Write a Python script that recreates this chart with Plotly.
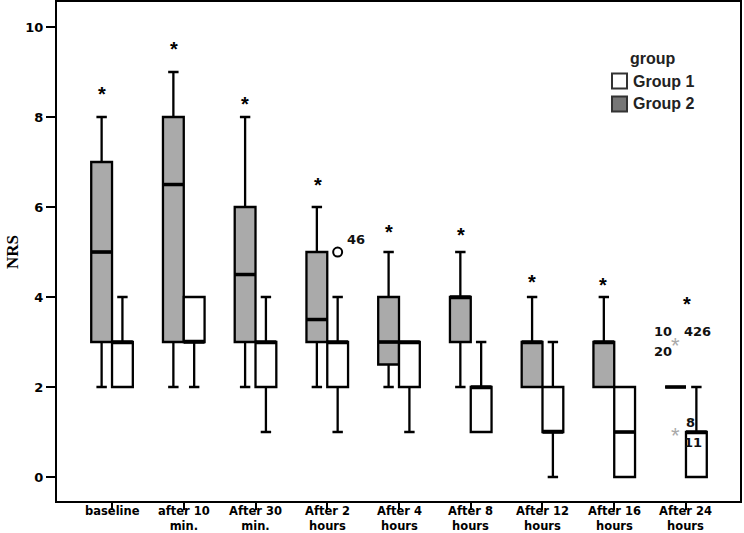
import plotly.graph_objects as go

cat_line1 = ["baseline", "after 10", "After 30", "After 2", "After 4", "After 8",
             "After 12", "After 16", "After 24"]
cat_line2 = ["", "min.", "min.", "hours", "hours", "hours", "hours", "hours", "hours"]

# Group 2 (grey)
g2_low = [2, 2, 2, 2, 2, 2, 2, 2, 2]
g2_q1 = [3, 3, 3, 3, 2.5, 3, 2, 2, 2]
g2_med = [5, 6.5, 4.5, 3.5, 3, 4, 3, 3, 2]
g2_q3 = [7, 8, 6, 5, 4, 4, 3, 3, 2]
g2_high = [8, 9, 8, 6, 5, 5, 4, 4, 2]

# Group 1 (white)
g1_low = [2, 2, 1, 1, 1, 1, 0, 0, 0]
g1_q1 = [2, 3, 2, 2, 2, 1, 1, 0, 0]
g1_med = [3, 3, 3, 3, 3, 2, 1, 1, 1]
g1_q3 = [3, 4, 3, 3, 3, 2, 2, 2, 1]
g1_high = [4, 4, 4, 4, 3, 3, 3, 2, 2]

# outliers / extremes
g1_outlier_cat = [3]
g1_outlier_val = [5]
g2_extreme_cat = [8, 8]
g2_extreme_val = [3, 1]

# case-number labels: text, x (data), y (data)
case_text = ["46", "10", "20", "426", "8", "11"]
case_x = [3.247, 7.526, 7.526, 7.944, 7.972, 7.944]
case_y = [5.27, 3.24, 2.8, 3.24, 1.22, 0.76]

# significance asterisks
sig_x = [-0.14, 0.86, 1.85, 2.87, 3.86, 4.86, 5.85, 6.84, 8.01]
sig_y = [8.56, 9.56, 8.33, 6.53, 5.49, 5.42, 4.38, 4.31, 3.89]

y_ticks = [0, 2, 4, 6, 8, 10]

W, H = 744, 533
ML, MR, MT, MB = 57, 4, 2, 32
OFF = 0.145
BW = 0.29
FONT = "Liberation Sans, Arial"
WFONT = "DejaVu Sans, Verdana"

n = len(cat_line1)
xi = list(range(n))

fig = go.Figure()
for xs, q1, med, q3, lo, hi, fill, name in [
        ([i - OFF for i in xi], g2_q1, g2_med, g2_q3, g2_low, g2_high, "#aaaaaa", "Group 2"),
        ([i + OFF for i in xi], g1_q1, g1_med, g1_q3, g1_low, g1_high, "white", "Group 1")]:
    fig.add_trace(go.Box(
        x=xs, q1=q1, median=med, q3=q3, lowerfence=lo, upperfence=hi, width=BW,
        fillcolor=fill, line=dict(color="black", width=2.3),
        whiskerwidth=0.5, boxpoints=False, name=name, showlegend=False))
    # thicker median line
    mx, my = [], []
    for x, m in zip(xs, med):
        mx += [x - BW / 2, x + BW / 2, None]
        my += [m, m, None]
    fig.add_trace(go.Scatter(x=mx, y=my, mode="lines", line=dict(color="black", width=3.5),
                             showlegend=False, hoverinfo="skip"))

# outlier circle
fig.add_trace(go.Scatter(
    x=[c + OFF for c in g1_outlier_cat], y=g1_outlier_val, mode="markers",
    marker=dict(symbol="circle-open", size=9, color="black", line=dict(width=2)),
    showlegend=False, hoverinfo="skip"))

# extreme values (grey stars)
for c, v in zip(g2_extreme_cat, g2_extreme_val):
    fig.add_annotation(x=c - OFF, y=v, text="*", showarrow=False, yanchor="middle",
                       xanchor="center", yshift=-3,
                       font=dict(family=FONT, size=22, color="#aaaaaa"))

# significance asterisks
for x, y in zip(sig_x, sig_y):
    fig.add_annotation(x=x, y=y, text="<b>*</b>", showarrow=False, yanchor="middle",
                       xanchor="center", yshift=-2,
                       font=dict(family=FONT, size=20, color="black"))

# case labels
for t, x, y in zip(case_text, case_x, case_y):
    fig.add_annotation(x=x, y=y, text="<b>" + t + "</b>", showarrow=False, xanchor="left",
                       yanchor="middle", font=dict(family=WFONT, size=13, color="#111"))

pw = W - ML - MR
ph = H - MT - MB


def px(x):
    return (x - ML) / pw


def py(y):
    return (H - MB - y) / ph


# category labels
for i in xi:
    if cat_line2[i]:
        txt = "<b>" + cat_line1[i] + "<br>" + cat_line2[i] + "</b>"
        yc = 518
    else:
        txt = "<b>" + cat_line1[i] + "</b>"
        yc = 511
    fig.add_annotation(x=i, xref="x", yref="paper", y=py(yc), text=txt,
                       showarrow=False, xanchor="center", yanchor="middle",
                       font=dict(family=WFONT, size=11.5, color="black"))

# y-axis title
fig.add_annotation(xref="paper", yref="paper", x=px(12), y=py(252), text="<b>NRS</b>",
                   textangle=-90, showarrow=False, xanchor="center", yanchor="middle",
                   font=dict(family="Liberation Serif, Times New Roman", size=17, color="black"))

# custom legend
fig.add_annotation(xref="paper", yref="paper", x=px(653), y=py(58), text="<b>group</b>",
                   showarrow=False, xanchor="center", yanchor="middle",
                   font=dict(family=FONT, size=16, color="#222"))
for label, fill, yc in [("Group 1", "white", 81), ("Group 2", "#777777", 104)]:
    fig.add_shape(type="rect", xref="paper", yref="paper",
                  x0=px(612), x1=px(627), y0=py(yc + 7.5), y1=py(yc - 7.5),
                  line=dict(color="#333", width=2), fillcolor=fill)
    fig.add_annotation(xref="paper", yref="paper", x=px(631), y=py(yc), text="<b>" + label + "</b>",
                       xanchor="left", yanchor="middle", showarrow=False,
                       font=dict(family=FONT, size=16, color="#222"))

fig.update_layout(
    width=W, height=H, margin=dict(l=ML, r=MR, t=MT, b=MB),
    plot_bgcolor="white", paper_bgcolor="white",
    xaxis=dict(range=[-0.767, 8.753], tickmode="array", tickvals=xi, ticktext=[""] * n,
               showgrid=False, zeroline=False, showline=True, mirror=True, automargin=False,
               linecolor="black", linewidth=2, ticks="outside", ticklen=7, tickwidth=2,
               tickcolor="black"),
    yaxis=dict(range=[-0.533, 10.556], tickmode="array", tickvals=y_ticks,
               showgrid=False, zeroline=False, showline=True, mirror=True, automargin=False,
               linecolor="black", linewidth=2, ticks="outside", ticklen=9, tickwidth=2,
               tickcolor="black",
               tickfont=dict(family=WFONT, size=13, color="black", weight="bold")),
)

fig.write_html("out.html")
